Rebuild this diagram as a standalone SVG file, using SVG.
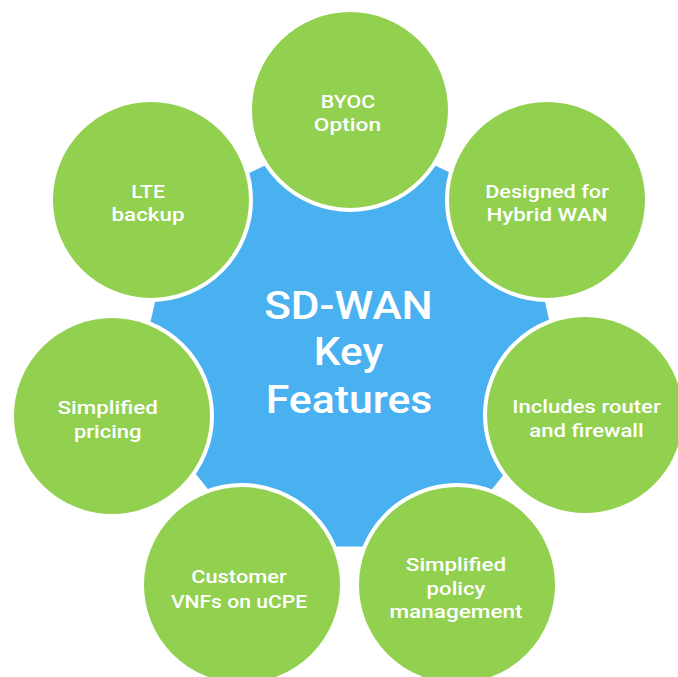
<svg xmlns="http://www.w3.org/2000/svg" width="678" height="677" viewBox="0 0 678 677">
<style>
.hub{fill:#4AB1F1}
.node circle{fill:#92D050;stroke:#fff;stroke-width:4}
text{font-family:Roboto,"Open Sans","Liberation Sans",sans-serif;font-weight:500;fill:#fff;text-anchor:middle}
.lbl{font-size:19px}
.title{font-size:38px}
</style>
<rect width="678" height="677" fill="#fff"/>
<g id="hub">
<polygon class="hub" points="350,124.5 523.57,208.08 566.43,395.9 446.32,546.52 253.68,546.52 133.57,395.9 176.43,208.08"/>
<text class="title"><tspan x="348.5" y="319" textLength="168.7" lengthAdjust="spacingAndGlyphs">SD-WAN</tspan><tspan x="348.5" y="365" textLength="69.3" lengthAdjust="spacingAndGlyphs">Key</tspan><tspan x="349" y="412.7" textLength="166.7" lengthAdjust="spacingAndGlyphs">Features</tspan></text>
</g>
<g id="byoc" class="node">
<circle cx="350" cy="110" r="100"/>
<text class="lbl"><tspan x="348" y="108.3" textLength="54.3" lengthAdjust="spacingAndGlyphs">BYOC</tspan><tspan x="347.5" y="130.7" textLength="67.3" lengthAdjust="spacingAndGlyphs">Option</tspan></text>
</g>
<g id="hybrid" class="node">
<circle cx="547" cy="200" r="100"/>
<text class="lbl"><tspan x="547" y="198" textLength="123.7" lengthAdjust="spacingAndGlyphs">Designed for</tspan><tspan x="547" y="221.4" textLength="121" lengthAdjust="spacingAndGlyphs">Hybrid WAN</tspan></text>
</g>
<g id="router" class="node">
<circle cx="585" cy="415" r="100"/>
<text class="lbl"><tspan x="586.5" y="413.3" textLength="148.4" lengthAdjust="spacingAndGlyphs">Includes router</tspan><tspan x="586.5" y="437" textLength="114.3" lengthAdjust="spacingAndGlyphs">and firewall</tspan></text>
</g>
<g id="policy" class="node">
<circle cx="457" cy="585" r="100"/>
<text class="lbl"><tspan x="456" y="570.8" textLength="100.3" lengthAdjust="spacingAndGlyphs">Simplified</tspan><tspan x="456" y="594.5" textLength="58.8" lengthAdjust="spacingAndGlyphs">policy</tspan><tspan x="456" y="617.5" textLength="133.2" lengthAdjust="spacingAndGlyphs">management</tspan></text>
</g>
<g id="vnf" class="node">
<circle cx="242" cy="585" r="100"/>
<text class="lbl"><tspan x="239" y="582.9" textLength="95.6" lengthAdjust="spacingAndGlyphs">Customer</tspan><tspan x="239" y="607.5" textLength="136.2" lengthAdjust="spacingAndGlyphs">VNFs on uCPE</tspan></text>
</g>
<g id="pricing" class="node">
<circle cx="112" cy="416" r="100"/>
<text class="lbl"><tspan x="107.7" y="414.2" textLength="100.3" lengthAdjust="spacingAndGlyphs">Simplified</tspan><tspan x="107.7" y="437.6" textLength="67.5" lengthAdjust="spacingAndGlyphs">pricing</tspan></text>
</g>
<g id="lte" class="node">
<circle cx="151" cy="200" r="100"/>
<text class="lbl"><tspan x="148" y="198" textLength="33.7" lengthAdjust="spacingAndGlyphs">LTE</tspan><tspan x="148" y="221.4" textLength="73" lengthAdjust="spacingAndGlyphs">backup</tspan></text>
</g>
</svg>
